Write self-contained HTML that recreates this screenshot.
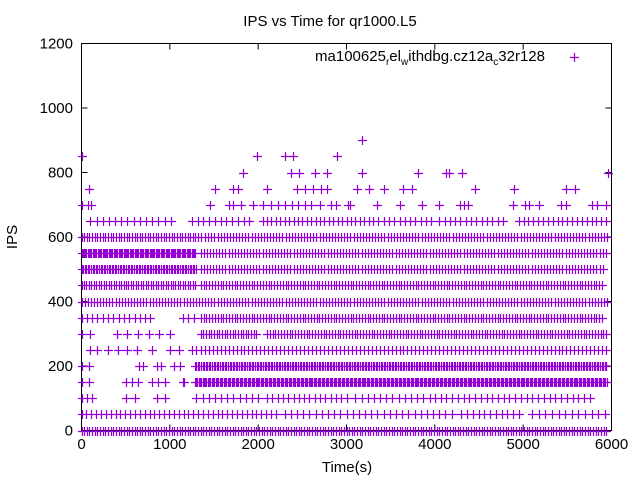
<!DOCTYPE html>
<html><head><meta charset="utf-8"><style>
body{margin:0;background:#fff}
svg{display:block;font-family:"Liberation Sans",sans-serif}
</style></head><body>
<svg id="chart" width="640" height="480" viewBox="0 0 640 480">
<text x="330" y="26" font-size="15" text-anchor="middle">IPS vs Time for qr1000.L5</text>
<rect x="81.5" y="43.5" width="530" height="387" fill="none" stroke="#000" stroke-width="1"/>
<g id="axes"></g>
<g id="marks"></g>
<text transform="translate(17,237) rotate(-90)" font-size="15" text-anchor="middle">IPS</text>
<text x="347" y="472" font-size="15" text-anchor="middle">Time(s)</text>
<g>
<text x="545" y="61" font-size="15" text-anchor="end">ma100625<tspan font-size="10" dy="4">r</tspan><tspan dy="-4">el</tspan><tspan font-size="10" dy="4">w</tspan><tspan dy="-4">ithdbg.cz12a</tspan><tspan font-size="10" dy="4">c</tspan><tspan dy="-4">32r128</tspan></text>
<path d="M570,57.5h9M574.5,53v9" stroke="#9400d3" stroke-width="1.2"/>
</g>
</svg>
<script>
const xTicks=[0,1000,2000,3000,4000,5000,6000];
const yTicks=[0,200,400,600,800,1000,1200];
// dense levels: [ips, startTime, endTime, stepSeconds]
const denseSegments=[
[0,0,5950,30],
[50,0,2250,55],[50,2300,4250,70],[50,4300,5000,65],[50,5100,5950,75],
[100,0,150,60],[100,500,600,100],[100,850,1000,100],[100,1300,2000,70],[100,2100,3000,60],[100,3100,3950,70],[100,4000,5800,65],
[150,0,120,80],[150,500,650,70],[150,800,1000,70],[150,1150,1160,10],[150,1280,5950,15],
[200,0,100,80],[200,650,700,50],[200,850,900,50],[200,1050,1150,60],[200,1280,5950,18],
[250,100,200,70],[250,300,700,110],[250,800,850,100],[250,1000,1150,100],[250,1250,1300,50],[250,1350,5950,45],
[300,0,150,100],[300,400,1000,120],[300,1350,2000,30],[300,2100,5950,32],
[350,0,800,60],[350,1150,1300,60],[350,1350,5900,32],
[400,0,5950,35],
[450,0,1300,28],[450,1350,5900,32],
[500,0,1300,18],[500,1350,5900,35],
[550,0,1300,14],[550,1350,5950,35],
[600,0,1350,30],[600,1400,5950,35],
[650,100,1050,70],[650,1250,1900,65],[650,2050,3250,50],[650,3300,4000,60],[650,4050,4800,60],[650,4950,5950,55]
];
const sparse700=[0,70,110,1450,1670,1710,1810,1940,2050,2150,2230,2300,2380,2450,2530,2600,2700,2820,2880,3020,3040,3340,3610,3860,4050,4290,4330,4380,4890,5020,5070,5180,5430,5490,5780,5840,5940];
const sparse750=[80,1510,1710,1770,2100,2440,2530,2620,2710,2780,3120,3250,3420,3640,3740,4460,4900,5490,5590];
const sparse800=[1830,2370,2460,2640,2780,3170,3810,4130,4160,4310,5960];
const sparse850=[10,1990,2300,2390,2890];
const sparse900=[3175];

const X0=81.5,X1=611.5,Y0=430.5,Y1=43.5;
const sx=t=>X0+t/6000*(X1-X0);
const sy=v=>Y0-v/1200*(Y0-Y1);
const NS='http://www.w3.org/2000/svg';
const axes=document.getElementById('axes');
let d='';
xTicks.forEach(t=>{const x=sx(t);d+=`M${x},${Y0}v-6M${x},${Y1}v6`;
 const tx=document.createElementNS(NS,'text');
 
 
 tx.setAttribute('x',x);tx.setAttribute('y',449);tx.setAttribute('font-size','15');tx.setAttribute('text-anchor','middle');tx.textContent=t;axes.appendChild(tx);});
yTicks.forEach(v=>{const y=sy(v);d+=`M${X0},${y}h6M${X1},${y}h-6`;
 const tx=document.createElementNS(NS,'text');
 
 
 tx.setAttribute('x',73);tx.setAttribute('y',y+5);tx.setAttribute('font-size','15');tx.setAttribute('text-anchor','end');tx.textContent=v;axes.appendChild(tx);});
const tp=document.createElementNS(NS,'path');


tp.setAttribute('d',d);tp.setAttribute('stroke','#000');axes.appendChild(tp);

let pd='';
const plus=(t,v)=>{const x=Math.round(sx(t))+0.5,y=Math.round(sy(v))+0.5;pd+=`M${x-4.5},${y}h9M${x},${y-4.5}v9`;};
denseSegments.forEach(([v,a,b,s])=>{for(let t=a;t<=b;t+=s)plus(t,v);});
[[700,sparse700],[750,sparse750],[800,sparse800],[850,sparse850],[900,sparse900]].forEach(([v,arr])=>arr.forEach(t=>plus(t,v)));
const mp=document.createElementNS(NS,'path');


mp.setAttribute('d',pd);mp.setAttribute('stroke','#9400d3');mp.setAttribute('stroke-width','1.2');mp.setAttribute('fill','none');
document.getElementById('marks').appendChild(mp);
</script>
</body></html>
